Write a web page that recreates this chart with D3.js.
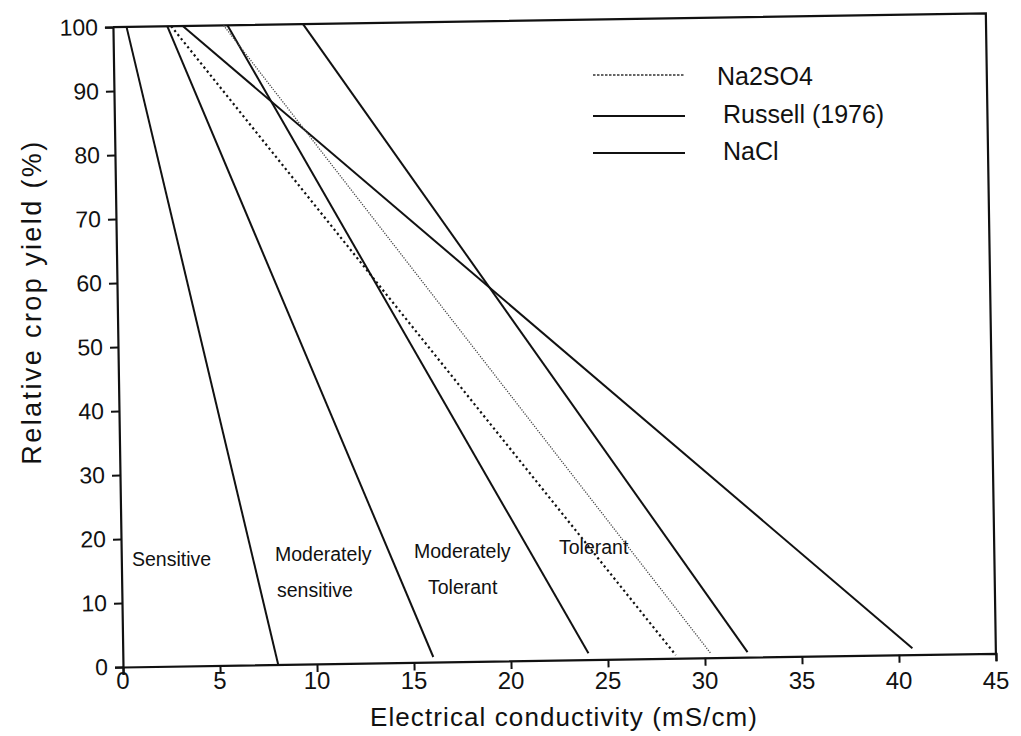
<!DOCTYPE html>
<html>
<head>
<meta charset="utf-8">
<script src="https://cdn.jsdelivr.net/npm/d3@7"></script>
<style>
  html, body { margin: 0; padding: 0; background: #fff; }
  svg { display: block; }
  text { font-family: "Liberation Sans", Arial, Helvetica, sans-serif; fill: #111; }
</style>
</head>
<body>
<svg id="chart" width="1021" height="736"></svg>
<script>
// Axis ticks
const xTicks = [0, 5, 10, 15, 20, 25, 30, 35, 40, 45];
const yTicks = [0, 10, 20, 30, 40, 50, 60, 70, 80, 90, 100];

// Russell (1976) tolerance class boundaries: EC (mS/cm) at the start and end, relative yield (%) at the end
const russellStartEC = [0.7, 2.8, 5.9, 9.8];
const russellEndEC = [8.0, 16.0, 24.0, 32.2];
const russellEndYield = [0, 0.8, 1.0, 0.8];

// NaCl response line
const naclEC = [3.6, 40.7];
const naclYield = [100, 1.0];

// Na2SO4 response lines
const na2so4EC = [3.0, 28.5];
const na2so4Yield = [100, 0.5];
const na2so4FineEC = [5.7, 30.3];
const na2so4FineYield = [100, 0.7];

// Tolerance class names
const classLines = [["Sensitive"], ["Moderately", "sensitive"], ["Moderately", "Tolerant"], ["Tolerant"]];
const legendNames = ["Na2SO4", "Russell (1976)", "NaCl"];

const svg = d3.select("#chart");
const W = 873, H = 640;          // plot frame size
const originX = 123, originY = 667;

const x = d3.scaleLinear().domain([0, 45]).range([0, W]);
const y = d3.scaleLinear().domain([0, 100]).range([H, 0]);

// the whole frame sits at a slight tilt
const frame = svg.append("g")
  .attr("transform", `rotate(-0.9, ${originX}, ${originY}) translate(${originX}, ${originY - H})`);

// top and right edges of the frame
frame.append("path")
  .attr("d", `M0,${y(100)}H${x(45)}V${y(0)}`)
  .attr("fill", "none").attr("stroke", "#111").attr("stroke-width", 2.2);

const xAxis = frame.append("g")
  .attr("transform", `translate(0,${H})`)
  .call(d3.axisBottom(x).tickValues(xTicks).tickSize(8).tickFormat(""));
const yAxis = frame.append("g")
  .call(d3.axisLeft(y).tickValues(yTicks).tickSize(8).tickPadding(7));
[xAxis, yAxis].forEach(a => {
  a.select(".domain").attr("stroke", "#111").attr("stroke-width", 2.2);
  a.selectAll(".tick line").attr("stroke", "#111").attr("stroke-width", 2);
});
yAxis.selectAll(".tick text")
  .style("font-size", "23px").attr("fill", "#111")
  .attr("font-family", "Liberation Sans, Arial, sans-serif");

// line builder
const line = d3.line().x(d => x(d[0])).y(d => y(d[1]));

// Russell boundaries
const russell = russellStartEC.map((s, i) => [[s, 100], [russellEndEC[i], russellEndYield[i]]]);
frame.selectAll(".russell").data(russell).join("path")
  .attr("class", "russell")
  .attr("d", line)
  .attr("fill", "none").attr("stroke", "#111").attr("stroke-width", 2);

// NaCl
frame.append("path")
  .datum(naclEC.map((e, i) => [e, naclYield[i]]))
  .attr("d", line)
  .attr("fill", "none").attr("stroke", "#111").attr("stroke-width", 2);

// Na2SO4
frame.append("path")
  .datum(na2so4EC.map((e, i) => [e, na2so4Yield[i]]))
  .attr("d", line)
  .attr("fill", "none").attr("stroke", "#111").attr("stroke-width", 2.2)
  .attr("stroke-dasharray", "2.2,3");
frame.append("path")
  .datum(na2so4FineEC.map((e, i) => [e, na2so4FineYield[i]]))
  .attr("d", line)
  .attr("fill", "none").attr("stroke", "#444").attr("stroke-width", 1.3)
  .attr("stroke-dasharray", "1.2,1.4");

// class names inside the bands
const classPos = [[132, 566], [275, 561], [414, 557.5], [559, 554]];
const classIndent = [[0], [0, 2], [0, 14], [0]];
classLines.forEach((lines, i) => {
  lines.forEach((t, j) => {
    svg.append("text")
      .attr("x", classPos[i][0] + classIndent[i][j])
      .attr("y", classPos[i][1] + j * 36)
      .style("font-size", "19.5px")
      .text(t);
  });
});

// x tick labels
svg.append("g").selectAll("text").data(xTicks).join("text")
  .attr("x", d => originX + x(d))
  .attr("y", 689)
  .attr("text-anchor", "middle")
  .style("font-size", "24px")
  .text(d => d);

// axis titles
svg.append("text")
  .attr("x", 564).attr("y", 726)
  .attr("text-anchor", "middle")
  .style("font-size", "26px").style("letter-spacing", "1.1px")
  .text("Electrical conductivity (mS/cm)");
svg.append("text")
  .attr("transform", "translate(41,302) rotate(-90)")
  .attr("text-anchor", "middle")
  .style("font-size", "27px").style("letter-spacing", "2.4px")
  .text("Relative crop yield (%)");

// legend
const legendY = [75, 116, 153];
const legendTextY = [85, 123, 160];
const legendTextX = [717, 723, 723];
const legendStyles = [
  { dash: "2.5,1.5", w: 1.6, c: "#333" },
  { dash: null, w: 2, c: "#111" },
  { dash: null, w: 2, c: "#111" }
];
legendNames.forEach((n, i) => {
  svg.append("line")
    .attr("x1", 593).attr("x2", 685)
    .attr("y1", legendY[i]).attr("y2", legendY[i])
    .attr("stroke", legendStyles[i].c).attr("stroke-width", legendStyles[i].w)
    .attr("stroke-dasharray", legendStyles[i].dash);
  svg.append("text")
    .attr("x", legendTextX[i]).attr("y", legendTextY[i])
    .style("font-size", "25px")
    .text(n);
});
</script>
</body>
</html>
